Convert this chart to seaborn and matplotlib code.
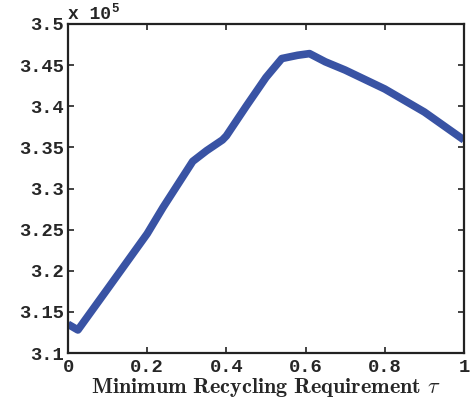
import numpy as np
import pandas as pd
import seaborn as sns
import matplotlib
matplotlib.use("Agg")
import matplotlib.pyplot as plt

# Data (objective value in units of 1e5)
tau = [0.0, 0.025, 0.1, 0.2, 0.24, 0.315, 0.35, 0.39, 0.4, 0.45, 0.5, 0.54, 0.58, 0.61, 0.65, 0.7, 0.8, 0.9, 1.0]
obj = [3.135, 3.128, 3.178, 3.245, 3.277, 3.333, 3.346, 3.359, 3.364, 3.400, 3.435, 3.458, 3.462, 3.464, 3.454, 3.444, 3.421, 3.393, 3.359]
xticks = [0, 0.2, 0.4, 0.6, 0.8, 1]
xticklabels = ["0", "0.2", "0.4", "0.6", "0.8", "1"]
yticks = [3.1, 3.15, 3.2, 3.25, 3.3, 3.35, 3.4, 3.45, 3.5]
yticklabels = ["3.1", "3.15", "3.2", "3.25", "3.3", "3.35", "3.4", "3.45", "3.5"]

df = pd.DataFrame({"tau": tau, "obj": obj})

sns.set_theme(style="white")
plt.rcParams["font.family"] = ["Liberation Mono", "DejaVu Sans Mono"]
plt.rcParams["mathtext.fontset"] = "cm"

fig = plt.figure(figsize=(4.71, 4.0), dpi=100)
ax = fig.add_axes([0.1444, 0.1175, 0.8406, 0.8225])

sns.lineplot(data=df, x="tau", y="obj", ax=ax, color="#3953a4", linewidth=5.5,
             solid_joinstyle="round", solid_capstyle="butt", clip_on=True)

ax.set_xlim(0, 1)
ax.set_ylim(3.1, 3.5)
ax.set_xticks(xticks)
ax.set_xticklabels(xticklabels, fontsize=13.5, fontweight="bold")
ax.set_yticks(yticks)
ax.set_yticklabels(yticklabels, fontsize=13.5, fontweight="bold")
ax.tick_params(direction="in", length=4, width=1.2, color="#222222",
               top=True, right=True, bottom=True, left=True, pad=3)
ax.tick_params(axis="x", pad=4)
for s in ax.spines.values():
    s.set_linewidth(1.6)
    s.set_color("#222222")
    s.set_visible(True)

ax.set_xlabel(r"$\mathbf{Minimum\ Recycling\ Requirement}\ \tau$", fontsize=16, labelpad=0)
ax.set_ylabel("")

# exponent label "x 10^5" in monospace
ax.text(0.0, 1.004, "x 10", transform=ax.transAxes, fontsize=13,
        fontweight="bold", ha="left", va="bottom")
ax.text(0.11, 1.028, "5", transform=ax.transAxes, fontsize=9,
        fontweight="bold", ha="left", va="bottom")

fig.savefig("out.png", dpi=100)
